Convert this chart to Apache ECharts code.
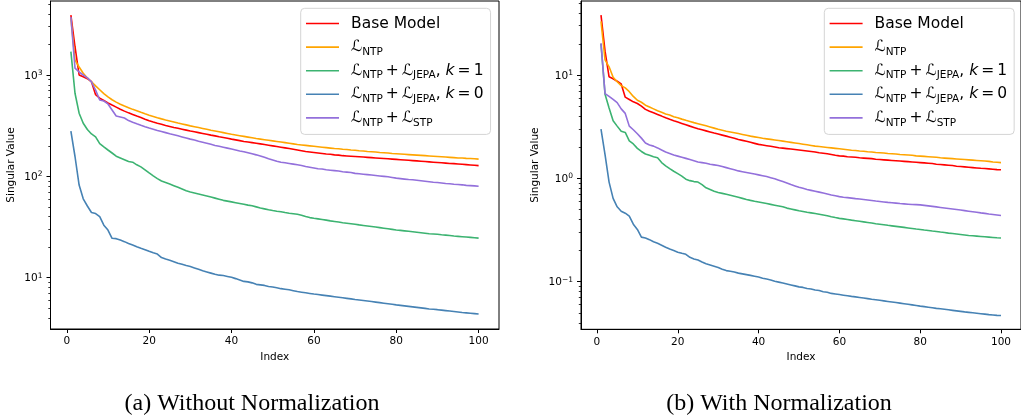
<!DOCTYPE html>
<html><head><meta charset="utf-8">
<script src="https://cdn.jsdelivr.net/npm/echarts@6/dist/echarts.min.js"></script>
<style>html,body{margin:0;padding:0;background:#fff;}#c{width:1021px;height:418px;}</style>
</head><body><div id="c"></div>
<script>
// ---------- data ----------
const indices = []; for (let i = 1; i <= 100; i++) indices.push(i);

const seriesKeys = ['base', 'ntp', 'jepa1', 'jepa0', 'stp'];
const seriesColors = ['#ff0000', '#ffa500', '#3cb371', '#4682b4', '#9370db'];
const legendLabels = {
  base: '{sp| }{t|Base Model}',
  ntp: '{sp| }{L|ℒ}{s|NTP}',
  jepa1: '{sp| }{L|ℒ}{s|NTP}{t|\u2009+\u2009}{L|ℒ}{s|JEPA}{t|, }{k|k}{t|\u2009=\u20091}',
  jepa0: '{sp| }{L|ℒ}{s|NTP}{t|\u2009+\u2009}{L|ℒ}{s|JEPA}{t|, }{k|k}{t|\u2009=\u20090}',
  stp: '{sp| }{L|ℒ}{s|NTP}{t|\u2009+\u2009}{L|ℒ}{s|STP}'
};
const captions = ['(a) Without Normalization', '(b) With Normalization'];
const xTicks = [0, 20, 40, 60, 80, 100];
const leftYMajor = [10, 100, 1000];
const rightYMajor = [0.1, 1, 10];
const leftYMinor = [4,5,6,7,8,9,20,30,40,50,60,70,80,90,200,300,400,500,600,700,800,900,2000,3000,4000,5000];
const rightYMinor = [0.04,0.05,0.06,0.07,0.08,0.09,0.2,0.3,0.4,0.5,0.6,0.7,0.8,0.9,2,3,4,5,6,7,8,9,20,30,40,50];

// (a) Without Normalization
const leftBase = [3900,1900,1000,960,920,860,640,590,560,530,
  505,482,460,440,423,408,393,380,366,353,
  343,334,326,318,311,304,298,292,286,280,
  275,270,265,260,255,251,246,242,238,233,
  229,225,221,218,215,212,209,206,203,200,
  197,194,191,188,185,182,179,176,174,172,
  170,168,166,165,163,162,160,159,158,157,
  156,155,154,153,152,151,150,149,148,147,
  146,145,144,143,142,141,140,139,138,137,
  136,135,134,133.5,132.5,131.5,130.5,129.5,128.5,127.5];
const leftNtp = [3650,1400,1200,1040,935,855,780,715,655,608,
  570,540,515,494,476,458,443,428,414,401,
  390,379,369,360,352,344,336,329,322,315,
  309,303,297,291,285,280,275,270,265,260,
  256,252,248,244,240,236,233,230,227,224,
  221,218,215,212,209,206,204,202,200,198,
  196,194,192,190,188,187,185,184,182,181,
  179,178,176,175,174,172,171,170,168,167,
  166,165,164,163,162,161,160,159,158,157,
  156,155,154,153,152,151.5,150.5,150,149,148];
const leftJepa1 = [1700,660,420,334,290,262,245,210,195,182,
  170,158,152,146,140,138,130,124,116,108,
  101,95,90,87,84,81,78,75,72,70,
  68.5,67,65.5,64,62.5,61,59.5,58,57,56,
  55,54,53,52,51.2,50,48.8,47.8,46.8,46,
  45.3,44.8,44,43.3,42.8,42.3,41.4,40.2,39.2,38.6,
  38.1,37.6,37,36.4,35.9,35.4,34.9,34.5,34.1,33.7,
  33.2,32.8,32.4,32,31.6,31.2,30.8,30.4,30,29.6,
  29.3,29,28.7,28.4,28.1,27.8,27.5,27.2,27,26.8,
  26.5,26.3,26.1,25.8,25.6,25.4,25.2,25,24.8,24.6];
const leftJepa0 = [280,157,82,60,51,44,43,40,33,29.5,
  24.5,24.3,23.5,22.7,21.8,21,20.2,19.5,18.9,18.2,
  17.6,17.1,15.8,15.3,14.9,14.4,13.9,13.6,13.2,12.9,
  12.5,12.1,11.7,11.4,11.1,10.8,10.6,10.5,10.3,10.1,
  9.8,9.5,9.2,9.1,8.9,8.6,8.5,8.4,8.2,8.1,
  7.95,7.8,7.7,7.6,7.45,7.3,7.2,7.1,7.0,6.9,
  6.82,6.74,6.66,6.58,6.5,6.42,6.34,6.26,6.18,6.1,
  6.03,5.96,5.89,5.82,5.75,5.68,5.61,5.54,5.47,5.4,
  5.34,5.28,5.22,5.16,5.1,5.04,4.98,4.92,4.88,4.84,
  4.79,4.74,4.69,4.64,4.59,4.54,4.5,4.46,4.42,4.38];
const leftStp = [3730,1170,1070,1000,935,855,710,567,554,518,
  452,394,385,376,355,342,330,319,309,300,
  292,284,277,270,263,257,251,245,239,233,
  228,222,217,212,207,202,198,194,190,186,
  182,178,175,171,167,163,159,154,149,145,
  141,138,136,134,132,130,128,125,123,121,
  119,118,116,115,114,113,111,110,109,107,
  106,105,104,103,102,101,100,99,97.5,96,
  95,94,93,92.5,91.5,90.5,89.5,88.5,87.5,87,
  86,85,84.5,83.5,83,82.5,81.5,81,80.5,80];

// (b) With Normalization
const rightBase = [38,17,9.6,9.2,8.7,8.2,6.1,5.8,5.5,5.3,
  5.0,4.65,4.45,4.3,4.15,4.0,3.85,3.72,3.6,3.5,
  3.4,3.3,3.2,3.11,3.02,2.95,2.88,2.81,2.74,2.68,
  2.62,2.56,2.5,2.44,2.38,2.33,2.28,2.23,2.18,2.13,
  2.1,2.07,2.04,2.01,1.98,1.96,1.94,1.92,1.9,1.88,
  1.86,1.84,1.82,1.8,1.77,1.75,1.73,1.7,1.67,1.65,
  1.64,1.62,1.61,1.6,1.58,1.57,1.56,1.55,1.53,1.52,
  1.51,1.5,1.49,1.48,1.47,1.46,1.45,1.44,1.43,1.42,
  1.41,1.4,1.39,1.37,1.36,1.35,1.34,1.33,1.31,1.3,
  1.29,1.28,1.27,1.26,1.25,1.245,1.235,1.225,1.215,1.21];
const rightNtp = [33,14,12,9.5,8.6,7.9,7.5,6.9,6.2,5.7,
  5.45,5.1,4.9,4.7,4.5,4.35,4.2,4.1,3.95,3.85,
  3.74,3.64,3.55,3.46,3.38,3.3,3.22,3.14,3.06,2.98,
  2.92,2.86,2.81,2.76,2.71,2.66,2.61,2.56,2.52,2.48,
  2.44,2.41,2.38,2.35,2.32,2.29,2.26,2.23,2.2,2.17,
  2.14,2.11,2.08,2.05,2.03,2.01,1.99,1.97,1.95,1.93,
  1.91,1.89,1.87,1.86,1.84,1.83,1.81,1.8,1.78,1.77,
  1.76,1.74,1.73,1.72,1.7,1.69,1.68,1.67,1.65,1.64,
  1.63,1.62,1.61,1.6,1.58,1.57,1.56,1.55,1.54,1.53,
  1.52,1.51,1.5,1.49,1.48,1.47,1.46,1.44,1.43,1.42];
const rightJepa1 = [20,6.5,4.8,3.6,3.2,2.85,2.78,2.3,2.15,1.95,
  1.82,1.72,1.67,1.62,1.58,1.42,1.32,1.24,1.17,1.11,
  1.05,0.98,0.95,0.93,0.92,0.87,0.81,0.78,0.75,0.73,
  0.715,0.7,0.685,0.67,0.655,0.64,0.625,0.612,0.6,0.59,
  0.58,0.57,0.56,0.55,0.54,0.53,0.515,0.505,0.495,0.485,
  0.478,0.47,0.463,0.456,0.449,0.442,0.435,0.425,0.417,0.41,
  0.405,0.4,0.394,0.389,0.384,0.379,0.374,0.369,0.364,0.36,
  0.356,0.351,0.347,0.343,0.339,0.335,0.331,0.327,0.323,0.32,
  0.316,0.313,0.309,0.306,0.302,0.299,0.295,0.292,0.289,0.286,
  0.283,0.28,0.278,0.276,0.274,0.272,0.27,0.268,0.266,0.265];
const rightJepa0 = [3.0,1.7,0.92,0.64,0.53,0.48,0.46,0.43,0.36,0.32,
  0.27,0.265,0.255,0.243,0.235,0.225,0.215,0.207,0.2,0.193,
  0.188,0.184,0.172,0.166,0.162,0.155,0.149,0.145,0.141,0.137,
  0.132,0.128,0.126,0.124,0.121,0.119,0.117,0.115,0.113,0.111,
  0.108,0.106,0.104,0.101,0.099,0.097,0.095,0.093,0.091,0.089,
  0.088,0.086,0.085,0.083,0.082,0.08,0.079,0.077,0.076,0.075,
  0.074,0.073,0.072,0.0712,0.0703,0.0694,0.0685,0.0676,0.0668,0.066,
  0.0652,0.0644,0.0636,0.0628,0.062,0.0612,0.0604,0.0596,0.0588,0.058,
  0.0573,0.0566,0.0559,0.0552,0.0546,0.054,0.0534,0.0528,0.0522,0.0516,
  0.051,0.0505,0.05,0.0495,0.049,0.0485,0.048,0.0476,0.0472,0.047];
const rightStp = [20.3,6.6,6.2,5.8,5.4,4.7,4.25,3.2,2.95,2.7,
  2.45,2.2,2.1,2.05,1.97,1.88,1.8,1.74,1.68,1.64,
  1.6,1.56,1.52,1.48,1.44,1.42,1.4,1.37,1.35,1.33,
  1.3,1.27,1.24,1.21,1.18,1.16,1.14,1.12,1.1,1.08,
  1.06,1.04,1.015,0.99,0.96,0.93,0.9,0.87,0.845,0.82,
  0.8,0.78,0.765,0.75,0.735,0.72,0.705,0.69,0.678,0.665,
  0.655,0.65,0.643,0.636,0.63,0.624,0.617,0.61,0.603,0.597,
  0.591,0.585,0.58,0.575,0.57,0.566,0.562,0.558,0.556,0.553,
  0.547,0.541,0.535,0.529,0.523,0.517,0.511,0.505,0.499,0.493,
  0.487,0.481,0.475,0.469,0.463,0.458,0.452,0.447,0.442,0.437];

const leftSeries = [leftBase, leftNtp, leftJepa1, leftJepa0, leftStp];
const rightSeries = [rightBase, rightNtp, rightJepa1, rightJepa0, rightStp];

// ---------- chart ----------
const FONT = 'DejaVu Sans';
const chart = echarts.init(document.getElementById('c'), null, {renderer: 'canvas'});

function powLabel(v) {
  const e = Math.round(Math.log10(v));
  return '{b|10}{s|' + (e < 0 ? '\u2212' + (-e) : e) + '}';
}
const yLabelRich = {
  b: {fontSize: 10.5, fontFamily: FONT, color: '#000', lineHeight: 12, padding: [2, 0, 0, 0]},
  s: {fontSize: 7.5, fontFamily: FONT, color: '#000', lineHeight: 8, padding: [1, 0, 5, 0]}
};

function xAxisCfg(grid) {
  return {
    type: 'value', gridIndex: grid, min: -3.95, max: 104.95,
    name: 'Index', nameLocation: 'middle', nameGap: 22,
    nameTextStyle: {fontFamily: FONT, fontSize: 10.5, color: '#000'},
    axisLine: {show: true, onZero: false, lineStyle: {color: '#000', width: 1}},
    axisTick: {show: true, length: 4, inside: false, customValues: xTicks, lineStyle: {color: '#000', width: 1}},
    axisLabel: {show: true, margin: 7, customValues: xTicks, fontFamily: FONT, fontSize: 10.5, color: '#000'},
    splitLine: {show: false}
  };
}
function yAxisCfg(grid, min, max, major, gap) {
  return {
    type: 'log', logBase: 10, gridIndex: grid, min: min, max: max,
    name: 'Singular Value', nameLocation: 'middle', nameGap: gap,
    nameTextStyle: {fontFamily: FONT, fontSize: 10.5, color: '#000'},
    axisLine: {show: true, onZero: false, lineStyle: {color: '#000', width: 1}},
    axisTick: {show: true, length: 4, customValues: major, lineStyle: {color: '#000', width: 1}},
    axisLabel: {show: true, margin: 8, customValues: major, formatter: powLabel, rich: yLabelRich},
    splitLine: {show: false}, minorTick: {show: false}
  };
}
function yMinorCfg(grid, min, max, minor) {
  return {
    type: 'log', logBase: 10, gridIndex: grid, min: min, max: max, position: 'left',
    axisLine: {show: false, onZero: false},
    axisTick: {show: true, length: 2.2, customValues: minor, lineStyle: {color: '#000', width: 0.8}},
    axisLabel: {show: false}, splitLine: {show: false}
  };
}

const legendRich = {
  sp: {width: 7, fontSize: 15.5, lineHeight: 16, padding: [3, 0, 3, 0]},
  t: {fontFamily: FONT, fontSize: 15.5, color: '#000', lineHeight: 16, padding: [3, 0, 3, 0]},
  L: {fontFamily: FONT, fontSize: 15.5, color: '#000', lineHeight: 16, padding: [3, 0, 3, 0]},
  k: {fontFamily: FONT, fontSize: 15.5, fontStyle: 'italic', color: '#000', lineHeight: 16, padding: [3, 0, 3, 0]},
  s: {fontFamily: FONT, fontSize: 10.5, color: '#000', lineHeight: 12, padding: [10, 0, 0, 0]}
};
function legendCfg(left) {
  return {
    orient: 'vertical', left: left, top: 8.3,
    data: seriesKeys, icon: 'rect', itemWidth: 33, itemHeight: 1.6, itemGap: 1.6,
    padding: [4.2, 7, 5.5, 5.3],
    backgroundColor: '#fff', borderColor: '#d4d4d4', borderWidth: 1, borderRadius: 4,
    formatter: name => legendLabels[name],
    textStyle: {fontFamily: FONT, fontSize: 15.5, color: '#000', rich: legendRich},
    selectedMode: false
  };
}

const series = [];
[leftSeries, rightSeries].forEach((set, g) => {
  set.forEach((vals, s) => {
    series.push({
      name: seriesKeys[s], type: 'line', xAxisIndex: g, yAxisIndex: g * 2,
      data: indices.map((x, i) => [x, vals[i]]),
      symbol: 'none', showSymbol: false, smooth: false,
      lineStyle: {color: seriesColors[s], width: 1.6},
      itemStyle: {color: seriesColors[s]},
      z: 2 + s, silent: true
    });
  });
});

chart.setOption({
  animation: false,
  backgroundColor: '#fff',
  grid: [
    {left: 50.5, top: 1, width: 448.5, height: 328, show: true, borderColor: '#000', borderWidth: 1, backgroundColor: 'transparent'},
    {left: 581, top: 1, width: 443, height: 328.3, show: true, borderColor: '#000', borderWidth: 1, backgroundColor: 'transparent'}
  ],
  xAxis: [xAxisCfg(0), xAxisCfg(1)],
  yAxis: [
    yAxisCfg(0, 3.12, 5370, leftYMajor, 34),
    yMinorCfg(0, 3.12, 5370, leftYMinor),
    yAxisCfg(1, 0.0346, 52.0, rightYMajor, 40),
    yMinorCfg(1, 0.0346, 52.0, rightYMinor)
  ],
  legend: [legendCfg(300.7), legendCfg(824.3)],
  series: series,
  graphic: [
    {type: 'text', style: {text: captions[0], fontFamily: 'Liberation Serif', fontSize: 24, fill: '#000', align: 'center', verticalAlign: 'middle', x: 252, y: 404}},
    {type: 'text', style: {text: captions[1], fontFamily: 'Liberation Serif', fontSize: 24, fill: '#000', align: 'center', verticalAlign: 'middle', x: 779, y: 404}}
  ]
});
</script></body></html>
